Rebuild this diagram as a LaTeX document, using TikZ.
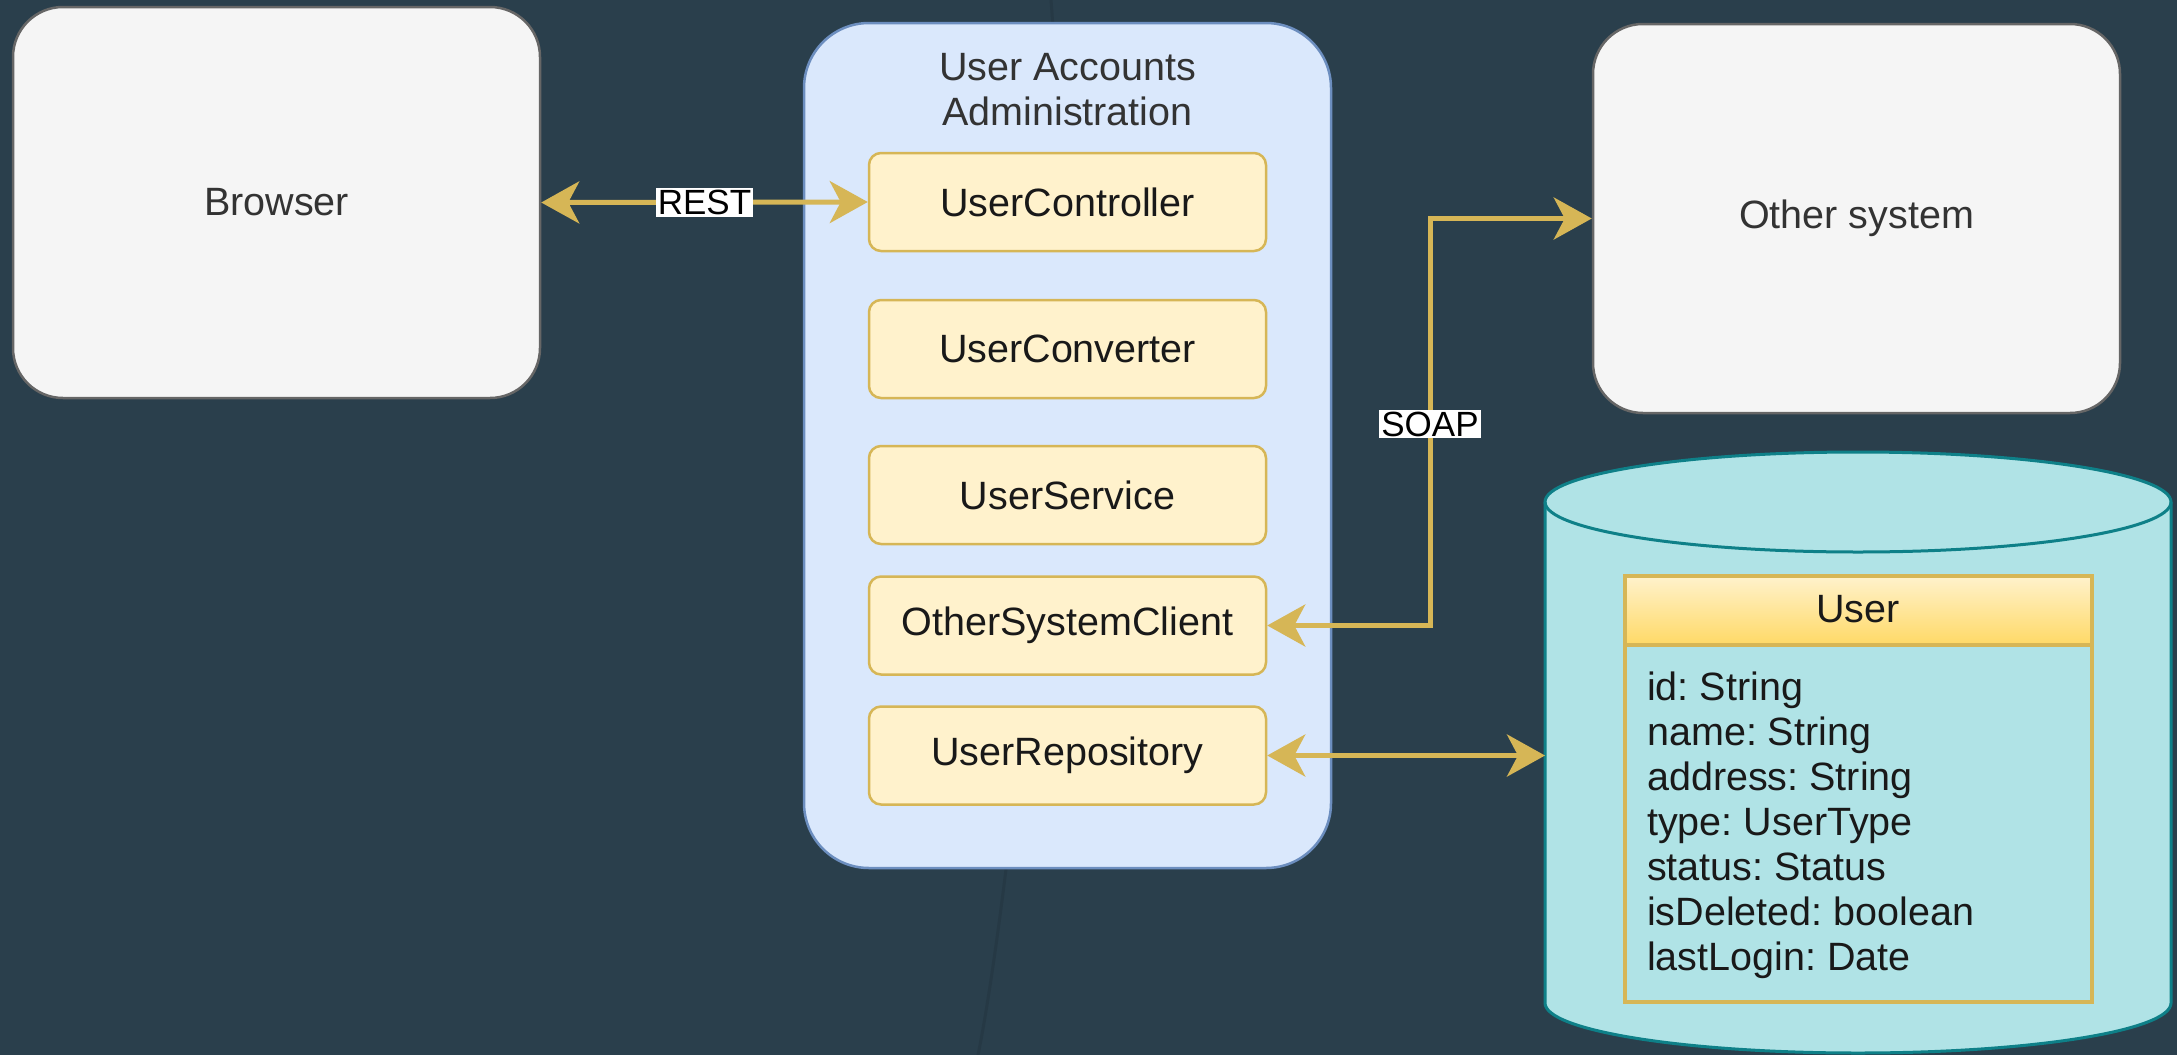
\documentclass[tikz,border=0pt]{standalone}
\usepackage{fontspec}
\setmainfont{Liberation Sans}
\usetikzlibrary{arrows.meta,calc,shadings}
\definecolor{bg}{HTML}{2A3F4C}
\definecolor{streak}{HTML}{263945}
\definecolor{grayfill}{HTML}{F5F5F5}
\definecolor{graystroke}{HTML}{666666}
\definecolor{bluefill}{HTML}{DAE8FC}
\definecolor{bluestroke}{HTML}{6C8EBF}
\definecolor{yelfill}{HTML}{FFF2CC}
\definecolor{yelstroke}{HTML}{D6B656}
\definecolor{yeldark}{HTML}{FFD966}
\definecolor{cylfill}{HTML}{B0E3E6}
\definecolor{cylstroke}{HTML}{0E8088}
\definecolor{txtgray}{HTML}{333333}
\frenchspacing
\tikzset{
  mainfont/.style={font=\fontsize{39.5}{46}\selectfont},
  graybox/.style={draw=graystroke, fill=grayfill, line width=2.5pt, rounded corners=50pt,
    minimum width=527pt, minimum height=390pt, mainfont, text=txtgray, inner sep=0pt},
  containerbox/.style={draw=bluestroke, fill=bluefill, line width=2.5pt, rounded corners=65pt,
    minimum width=527pt, minimum height=845pt, inner sep=0pt},
  compbox/.style={draw=yelstroke, fill=yelfill, line width=2.5pt, rounded corners=12pt,
    minimum width=397pt, minimum height=98pt, mainfont, text=black!90, inner sep=0pt},
  conn/.style={draw=yelstroke, line width=5pt,
    {Stealth[length=38pt,width=42pt,inset=11pt]}-{Stealth[length=38pt,width=42pt,inset=11pt]}},
  lbl/.style={fill=white, text=black, font=\fontsize{35}{40}\selectfont, inner sep=2pt},
  field/.style={anchor=base west, mainfont, text=black!90, inner sep=0pt},
}
\begin{document}
\begin{tikzpicture}[x=1pt,y=-1pt]
\fill[bg] (0,0) rectangle (2177,1055);
\useasboundingbox (0,0) rectangle (2177,1055);
% faint background streak
\draw[streak, line width=3pt] (1051,0) .. controls (1075,300) and (1010,900) .. (978,1055);

% Browser
\node[graybox, minimum height=391pt] (browser) at (276.5,202.5) {Browser};

% Container
\node[containerbox] (cont) at (1067.5,445.5) {};
\node[anchor=base, mainfont, text=txtgray, inner sep=0pt] (title1) at (1067.5,80) {User Accounts};
\node[anchor=base, mainfont, text=txtgray, inner sep=0pt] (title2) at (1067.5,125) {Administration};

\node[compbox] (uc) at (1067.5,202) {UserController};
\node[compbox] (ucv) at (1067.5,349) {UserConverter};
\node[compbox] (us) at (1067.5,495) {UserService};
\node[compbox] (osc) at (1067.5,625.5) {OtherSystemClient};
\node[compbox] (repo) at (1067.5,755.5) {UserRepository};

% Other system
\node[graybox, minimum height=389pt] (other) at (1856.5,218.5) {Other system};

% Database cylinder
\node[minimum width=626pt, minimum height=601pt, inner sep=0pt, outer sep=0pt] (db) at (1858,752.5) {};
\filldraw[fill=cylfill, draw=cylstroke, line width=3pt]
  (1545,502) -- (1545,1003) arc[start angle=180, end angle=360, x radius=313pt, y radius=50pt]
  -- (2171,502) arc[start angle=0, end angle=180, x radius=313pt, y radius=50pt] -- cycle;
\draw[cylstroke, line width=3pt] (1545,502) arc[start angle=180, end angle=360, x radius=313pt, y radius=50pt];

% User table
\shade[top color=yelfill, bottom color=yeldark] (1625,576) rectangle (2092,645);
\draw[yelstroke, line width=4pt] (1625,576) rectangle (2092,1002);
\draw[yelstroke, line width=4pt] (1625,645) -- (2092,645);
\node[anchor=base, mainfont, text=black!90, inner sep=0pt] (usrhead) at (1858,622) {User};
\node[field] (f1) at (1647,700) {id: String};
\node[field] (f2) at (1647,745) {name: String};
\node[field] (f3) at (1647,790) {address: String};
\node[field] (f4) at (1647,835) {type: UserType};
\node[field] (f5) at (1647,880) {status: Status};
\node[field] (f6) at (1647,925) {isDeleted: boolean};
\node[field] (f7) at (1647,970) {lastLogin: Date};

% Connectors
\coordinate (soapx) at (1430,424);
\draw[conn] (browser.east) -- (uc.west) node[lbl, midway] {REST};
\draw[conn] (osc.east) -- (osc.east -| soapx) -- (soapx) node[lbl] {SOAP} |- (other.west);
\draw[conn] (repo.east) -- (repo.east -| db.west);
\end{tikzpicture}
\end{document}
